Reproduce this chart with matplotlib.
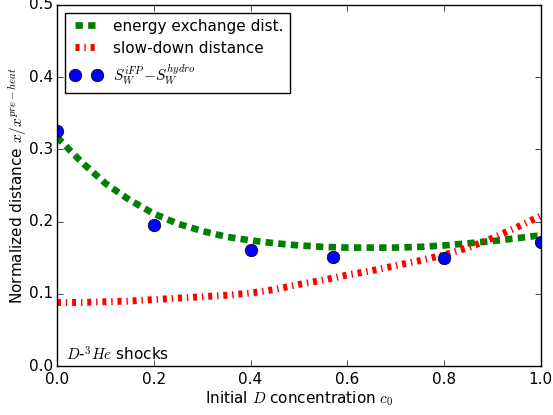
import matplotlib
matplotlib.use('Agg')
import matplotlib.pyplot as plt

# values
c0 = [0.0, 0.05, 0.1, 0.15, 0.2, 0.25, 0.3, 0.35, 0.4, 0.45, 0.5,
      0.55, 0.6, 0.65, 0.7, 0.75, 0.8, 0.85, 0.9, 0.95, 1.0]
energy_exchange = [0.317, 0.283, 0.253, 0.230, 0.211, 0.197, 0.187, 0.179, 0.174, 0.170, 0.167,
                   0.165, 0.164, 0.164, 0.164, 0.165, 0.167, 0.170, 0.173, 0.177, 0.181]
slow_down = [0.088, 0.088, 0.089, 0.090, 0.092, 0.094, 0.096, 0.098, 0.101, 0.106, 0.113,
             0.119, 0.126, 0.132, 0.139, 0.146, 0.154, 0.164, 0.177, 0.192, 0.208]

c0_sim = [0.0, 0.2, 0.4, 0.57, 0.8, 1.0]
sw_diff = [0.325, 0.195, 0.161, 0.151, 0.150, 0.172]

plt.style.use('classic')
plt.rcParams['lines.scale_dashes'] = False
plt.rcParams['font.size'] = 11

fig = plt.figure(figsize=(5.53, 4.15), dpi=100, facecolor='white')
ax = fig.add_axes([0.103, 0.118, 0.875, 0.870])

ax.plot(c0, energy_exchange, color='green', lw=4.8, dashes=(5.3, 3.8),
        label='energy exchange dist.')
ax.plot(c0, slow_down, color='red', lw=5, dashes=(2.9, 3.5, 1.0, 3.5),
        label='slow-down distance')
ax.plot(c0_sim, sw_diff, 'o', color='blue', markeredgecolor='black', markersize=9,
        label=r'$S_W^{iFP}\!-\!S_W^{hydro}$')

ax.set_xlim(0, 1)
ax.set_ylim(0, 0.5)
ax.set_xticks([0.0, 0.2, 0.4, 0.6, 0.8, 1.0])
ax.set_yticks([0.0, 0.1, 0.2, 0.3, 0.4, 0.5])
ax.tick_params(labelsize=11)
ax.tick_params(axis='y', pad=3)
ax.set_xlabel(r'Initial $D$ concentration $c_0$', fontsize=11, labelpad=2)
ax.set_ylabel(r'Normalized distance $x/x^{pre-heat}$', fontsize=11, labelpad=0)
ax.text(0.018, 0.015, r'$D$-$^3He$ shocks', transform=ax.transAxes, fontsize=11)

ax.legend(loc='upper left', numpoints=2, fontsize=11, handlelength=2.0,
          labelspacing=0.45, borderaxespad=0.5)

fig.savefig('out.png', dpi=100, facecolor='white')
